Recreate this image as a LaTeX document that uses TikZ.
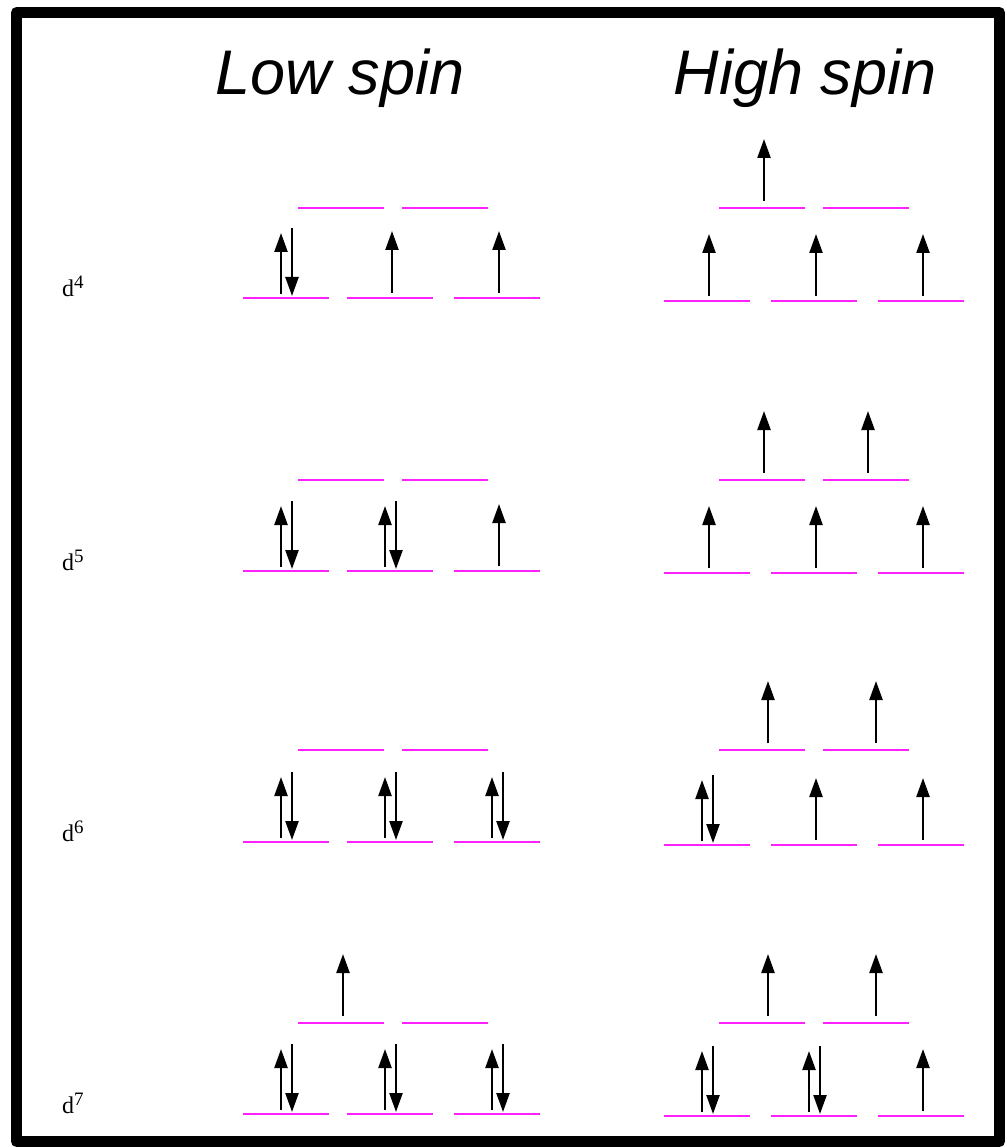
\documentclass[tikz,border=0pt]{standalone}
\usepackage{fontspec}
\setmainfont{Liberation Serif}
\newfontfamily\titlefont{Liberation Sans}
\usetikzlibrary{arrows.meta}
\definecolor{orbital}{HTML}{FF22FF}
\tikzset{
  every picture/.style={line join=round, >=Stealth},
  level/.style={draw=orbital, line width=2.4pt},
  spin/.style={line width=2.4pt, -{Triangle[length=19pt,width=13pt]}},
  heading/.style={font=\titlefont\itshape\fontsize{63}{70}\selectfont, anchor=base, inner sep=0pt},
  config/.style={font=\fontsize{24}{26}\selectfont, anchor=base west, inner sep=0pt},
}
\newcommand{\spinup}[2]{\draw[spin] (#1+2,#2-5) -- (#1+2,#2-67);}
\newcommand{\spinpair}[2]{\draw[spin] (#1-5,#2-4) -- (#1-5,#2-65);
  \draw[spin] (#1+6,#2-70) -- (#1+6,#2-2);}
\newcommand{\dsup}[1]{\raisebox{8pt}{\fontsize{19}{20}\selectfont #1}}

\begin{document}
\begin{tikzpicture}[x=1pt,y=-1pt]
\useasboundingbox (0,0) rectangle (1006,1147);
\draw[line width=11pt] (16.5,12.5) rectangle (999.5,1141.5);
\node[heading] (low) at (340,95) {Low spin};
\node[heading] (high) at (805,95) {High spin};
% levels: row / low spin y / high spin y / upper y
\foreach \n/\ly/\hy/\ey in {4/298/301/208, 5/571/573/480, 6/842/845/750, 7/1114/1116/1023}{
  \node[config] (d\n) at (62,\ly-1) {d\dsup{\n}};
  \foreach \x in {286,390,497} \draw[level] (\x-43,\ly) -- (\x+43,\ly);
  \foreach \x in {341,445} \draw[level] (\x-43,\ey) -- (\x+43,\ey);
  \foreach \x in {707,814,921} \draw[level] (\x-43,\hy) -- (\x+43,\hy);
  \foreach \x in {762,866} \draw[level] (\x-43,\ey) -- (\x+43,\ey);
}
% d4
\spinpair{286}{298} \spinup{390}{298} \spinup{497}{298}
\spinup{707}{301} \spinup{814}{301} \spinup{921}{301} \spinup{762}{206}
% d5
\spinpair{286}{571} \spinpair{390}{571} \spinup{497}{571}
\spinup{707}{573} \spinup{814}{573} \spinup{921}{573}
\spinup{762}{478} \spinup{866}{478}
% d6
\spinpair{286}{842} \spinpair{390}{842} \spinpair{497}{842}
\spinpair{707}{845} \spinup{814}{845} \spinup{921}{845}
\spinup{766}{748} \spinup{874}{748}
% d7
\spinpair{286}{1114} \spinpair{390}{1114} \spinpair{497}{1114}
\spinup{341}{1021}
\spinpair{707}{1116} \spinpair{814}{1116} \spinup{921}{1116}
\spinup{766}{1021} \spinup{874}{1021}
\end{tikzpicture}
\end{document}
